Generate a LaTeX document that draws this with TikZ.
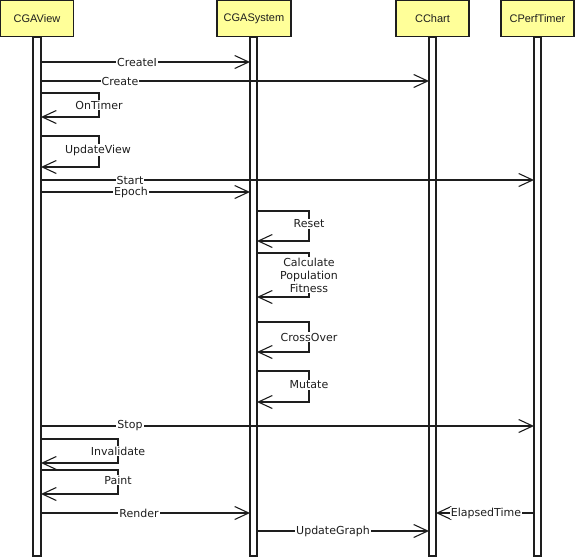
\documentclass[tikz,border=0pt]{standalone}
\usepackage{fontspec}
\setmainfont{DejaVu Sans}
\newfontfamily\hdrfont{Liberation Sans}
\usetikzlibrary{arrows.meta}
\definecolor{hdryellow}{RGB}{255,255,153}
\definecolor{ink}{RGB}{30,30,30}
\tikzset{
  hdr/.style={draw=ink, line width=1.3pt, fill=hdryellow, minimum width=73pt, minimum height=36pt, inner sep=0pt, font=\hdrfont\fontsize{11}{12}\selectfont, text=ink},
  bar/.style={draw=ink, line width=1.1pt, fill=white},
  msgline/.style={draw=ink, line width=1.1pt, -{Straight Barb[length=14pt,width=13pt,line width=1.1pt]}},
  lbl/.style={fill=white, inner sep=1pt, font=\fontsize{11}{13}\selectfont, text=ink, align=center}
}
\begin{document}
\begin{tikzpicture}[x=1pt,y=-1pt]
\useasboundingbox (0,0) rectangle (576,557);
% lifeline bars
\filldraw[bar] (33,37) rectangle (41,556);
\filldraw[bar] (250,37) rectangle (257,556);
\filldraw[bar] (429,37) rectangle (436,556);
\filldraw[bar] (534,37) rectangle (541,556);
% headers
\node[hdr] (v) at (37,18.5) {CGAView};
\node[hdr, minimum width=74pt] (s) at (254,18.5) {CGASystem};
\node[hdr] (c) at (432.5,18.5) {CChart};
\node[hdr] (p) at (537.5,18.5) {CPerfTimer};
% endpoints
\coordinate (a1) at (41,62);  \coordinate (b1) at (250,62);
\coordinate (a2) at (41,81);  \coordinate (b2) at (429,81);
\coordinate (a3) at (41,180); \coordinate (b3) at (534,180);
\coordinate (a4) at (41,192); \coordinate (b4) at (250,192);
\coordinate (a5) at (41,426); \coordinate (b5) at (534,426);
\coordinate (a6) at (41,513); \coordinate (b6) at (250,513);
\coordinate (a7) at (534,513); \coordinate (b7) at (436,513);
\coordinate (a8) at (257,531); \coordinate (b8) at (429,531);
% straight messages
\draw[msgline] (a1) -- (b1);
\draw[msgline] (a2) -- (b2);
\draw[msgline] (a3) -- (b3);
\draw[msgline] (a4) -- (b4);
\draw[msgline] (a5) -- (b5);
\draw[msgline] (a6) -- (b6);
\draw[msgline] (a7) -- (b7);
\draw[msgline] (a8) -- (b8);
% self messages
\coordinate (l1t) at (41,93);  \coordinate (l1b) at (41,117);
\coordinate (l2t) at (41,136); \coordinate (l2b) at (41,167);
\coordinate (l3t) at (257,211); \coordinate (l3b) at (257,241);
\coordinate (l4t) at (257,253); \coordinate (l4b) at (257,297);
\coordinate (l5t) at (257,322); \coordinate (l5b) at (257,352);
\coordinate (l6t) at (257,371); \coordinate (l6b) at (257,402);
\coordinate (l7t) at (41,439); \coordinate (l7b) at (41,463);
\coordinate (l8t) at (41,470); \coordinate (l8b) at (41,494);
\draw[msgline] (l1t) -- (99,93) -- (99,117) -- (l1b);
\draw[msgline] (l2t) -- (99,136) -- (99,167) -- (l2b);
\draw[msgline] (l3t) -- (309,211) -- (309,241) -- (l3b);
\draw[msgline] (l4t) -- (309,253) -- (309,297) -- (l4b);
\draw[msgline] (l5t) -- (309,322) -- (309,352) -- (l5b);
\draw[msgline] (l6t) -- (309,371) -- (309,402) -- (l6b);
\draw[msgline] (l7t) -- (118,439) -- (118,463) -- (l7b);
\draw[msgline] (l8t) -- (118,470) -- (118,494) -- (l8b);
% labels
\node[lbl] (t1) at (137,62) {CreateI};
\node[lbl] (t2) at (120,81) {Create};
\node[lbl] (t3) at (130,180) {Start};
\node[lbl] (t4) at (131,192) {Epoch};
\node[lbl] (t5) at (130,426) {Stop};
\node[lbl] (t6) at (139,513) {Render};
\node[lbl] (t7) at (486,513) {ElapsedTime};
\node[lbl] (t8) at (333,531) {UpdateGraph};
\node[lbl] (u1) at (99,105) {OnTimer};
\node[lbl] (u2) at (98,150) {UpdateView};
\node[lbl] (u3) at (309,224) {Reset};
\node[lbl, font=\fontsize{11}{13}\selectfont] (u4) at (309,275) {Calculate\\Population\\Fitness};
\node[lbl] (u5) at (309,337) {CrossOver};
\node[lbl] (u6) at (309,385) {Mutate};
\node[lbl] (u7) at (118,451) {Invalidate};
\node[lbl] (u8) at (118,480) {Paint};
\end{tikzpicture}
\end{document}
